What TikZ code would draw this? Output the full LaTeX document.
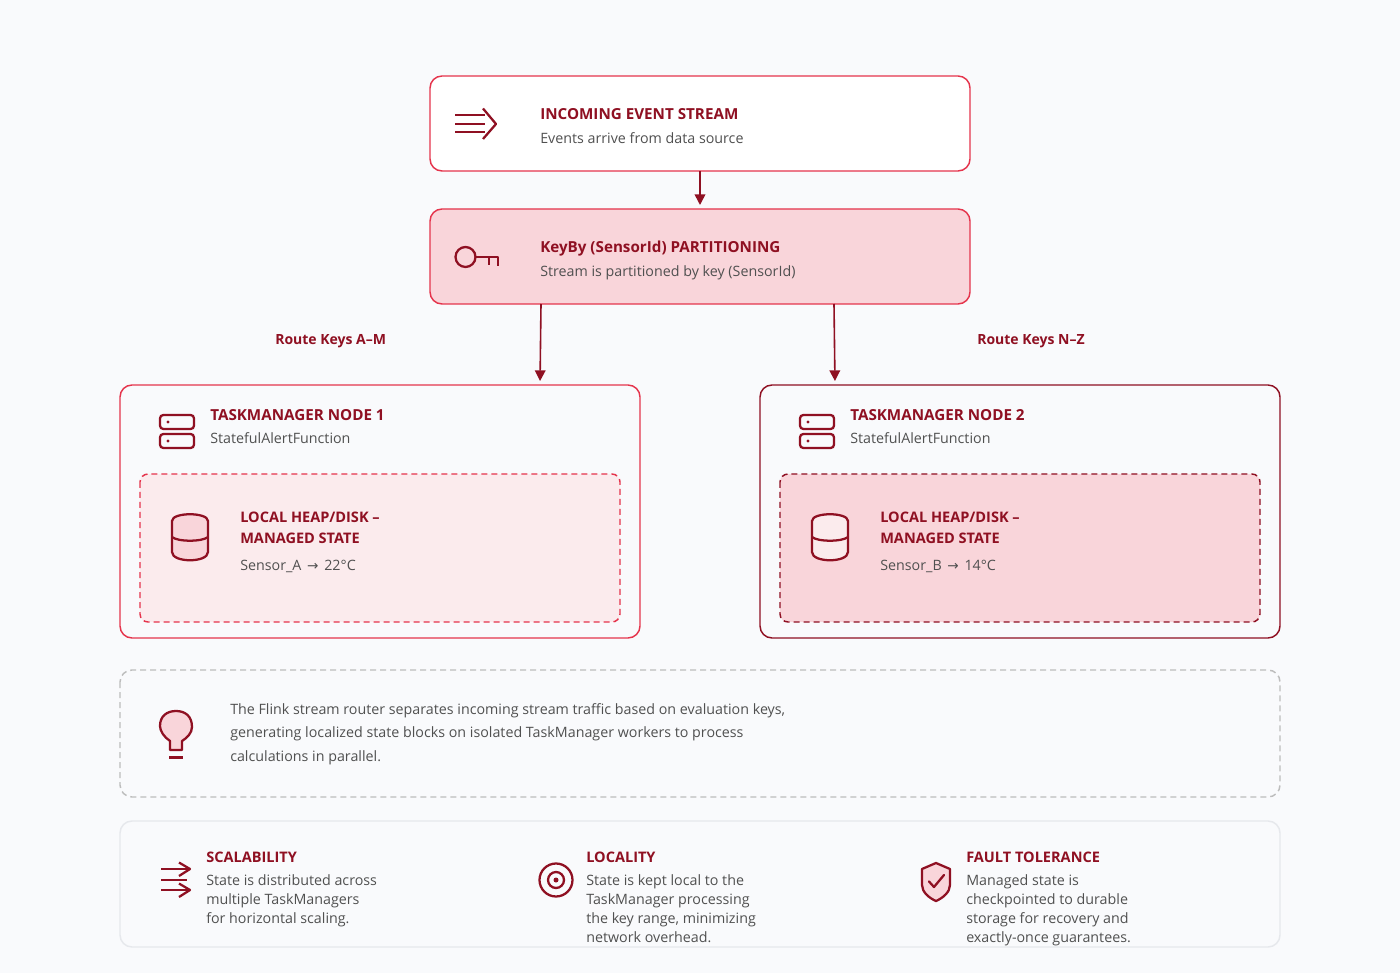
\documentclass[tikz,border=0pt]{standalone}
\usepackage{fontspec}
\setmainfont{Open Sans}
\newfontfamily\arrowfont{DejaVu Sans}
\definecolor{bgc}{HTML}{F9FAFC}
\definecolor{red1}{HTML}{E5344C}
\definecolor{dark}{HTML}{8F1022}
\definecolor{pinkf}{HTML}{F9D5DA}
\definecolor{pinkl}{HTML}{FBEBED}
\definecolor{txt}{HTML}{505050}
\definecolor{graydash}{HTML}{BDBDBD}
\definecolor{lightb}{HTML}{E6E8EC}
\usetikzlibrary{arrows.meta}
\tikzset{
 x=0.75pt,y=-0.75pt,
 box/.style={rounded corners=9pt,line width=1.1pt,inner sep=0pt},
 head/.style={anchor=base west,inner sep=0pt,text=dark,font=\fontsize{11.4pt}{13pt}\bfseries\selectfont},
 heads/.style={anchor=base west,inner sep=0pt,text=dark,font=\fontsize{10.9pt}{13pt}\bfseries\selectfont},
 route/.style={anchor=base west,inner sep=0pt,text=dark,font=\fontsize{10.5pt}{13pt}\bfseries\selectfont},
 sub/.style={anchor=base west,inner sep=0pt,text=txt,font=\fontsize{10.7pt}{13pt}\selectfont},
 ico/.style={draw=dark,line width=1.7pt,line cap=round,line join=round},
 conn/.style={draw=dark,line width=1.2pt,-{Triangle[length=8pt,width=8pt]},shorten >=3pt},
}
\begin{document}
\begin{tikzpicture}
\useasboundingbox (0,0) rectangle (1400,973);
\fill[bgc] (0,0) rectangle (1400,973);
% boxes
\draw[box,draw=red1,fill=white] (430,76) rectangle (970,171);
\coordinate (streamS) at (700,171);
\draw[box,draw=red1,fill=pinkf] (430,209) rectangle (970,304);
\coordinate (keyN) at (700,209);
\coordinate (keyA) at (541,304);
\coordinate (keyB) at (834,304);
\draw[box,draw=red1] (120,385) rectangle (640,638);
\coordinate (tmA) at (540,385);
\draw[box,draw=dark] (760,385) rectangle (1280,638);
\coordinate (tmB) at (835,385);
\draw[box,draw=red1,fill=pinkl,dash pattern=on 4.5pt off 3pt,rounded corners=6pt] (140,474) rectangle (620,622);
\draw[box,draw=dark,fill=pinkf,dash pattern=on 4.5pt off 3pt,rounded corners=6pt] (780,474) rectangle (1260,622);
\draw[box,draw=graydash,dash pattern=on 4.5pt off 3pt] (120,670) rectangle (1280,797);
\draw[box,draw=lightb] (120,821) rectangle (1280,947);
% connectors
\draw[conn] (streamS) -- (keyN);
\draw[conn] (keyA) -- (tmA);
\draw[conn] (keyB) -- (tmB);
% labels
\node[route] (routeA) at (275,345) {Route Keys A–M};
\node[route] (routeB) at (977,345) {Route Keys N–Z};
% header text
\node[head] (t1) at (540,120) {INCOMING EVENT STREAM};
\node[sub] (s1) at (540,144) {Events arrive from data source};
\node[head] (t2) at (540,253) {KeyBy (SensorId) PARTITIONING};
\node[sub] (s2) at (540,277) {Stream is partitioned by key (SensorId)};
\node[head] (t3) at (210,420.5) {TASKMANAGER NODE 1};
\node[sub] (s3) at (210,444) {StatefulAlertFunction};
\node[head] (t4) at (850,420.5) {TASKMANAGER NODE 2};
\node[sub] (s4) at (850,444) {StatefulAlertFunction};
\node[heads] (l1a) at (240,522.5) {LOCAL HEAP/DISK –};
\node[heads] (l1b) at (240,543) {MANAGED STATE};
\node[sub] (l1c) at (240,570) {Sensor\_A\kern1.5pt{} {\arrowfont\fontsize{10.2pt}{13pt}\selectfont →}\kern1.5pt{} 22°C};
\node[heads] (l2a) at (880,522.5) {LOCAL HEAP/DISK –};
\node[heads] (l2b) at (880,543) {MANAGED STATE};
\node[sub] (l2c) at (880,570) {Sensor\_B\kern1.5pt{} {\arrowfont\fontsize{10.2pt}{13pt}\selectfont →}\kern1.5pt{} 14°C};
\node[sub] (n1) at (230,714) {The Flink stream router separates incoming stream traffic based on evaluation keys,};
\node[sub] (n2) at (230,737) {generating localized state blocks on isolated TaskManager workers to process};
\node[sub] (n3) at (230,761) {calculations in parallel.};
\node[heads] (a0) at (206,862.5) {SCALABILITY};
\node[sub] (a1) at (206,885.6) {State is distributed across};
\node[sub] (a2) at (206,904.6) {multiple TaskManagers};
\node[sub] (a3) at (206,923.6) {for horizontal scaling.};
\node[heads] (b0) at (586,862.5) {LOCALITY};
\node[sub] (b1) at (586,885.6) {State is kept local to the};
\node[sub] (b2) at (586,904.6) {TaskManager processing};
\node[sub] (b3) at (586,923.6) {the key range, minimizing};
\node[sub] (b4) at (586,942.6) {network overhead.};
\node[heads] (c0) at (966,862.5) {FAULT TOLERANCE};
\node[sub] (c1) at (966,885.6) {Managed state is};
\node[sub] (c2) at (966,904.6) {checkpointed to durable};
\node[sub] (c3) at (966,923.6) {storage for recovery and};
\node[sub] (c4) at (966,942.6) {exactly-once guarantees.};
% icons: stream
\draw[ico,line cap=butt] (455,115)--(485,115) (455,124)--(485,124) (455,132)--(485,132);
\draw[ico,line cap=butt] (483,108.5)--(496,124)--(483,139);
% key
\draw[ico,line cap=butt] (465.5,257) circle (10);
\draw[ico,line cap=butt] (475.5,257)--(498,257)--(498,266) (489,257)--(489,265);
% servers
\foreach \dx in {0,640}{
 \begin{scope}[xshift=\dx*0.75pt]
 \draw[ico,rounded corners=2.5pt] (160,415) rectangle (194,429);
 \draw[ico,rounded corners=2.5pt] (160,434) rectangle (194,448);
 \fill[dark] (168,422) circle (1.6) (168,441) circle (1.6);
 \end{scope}}
\draw[ico,fill=pinkf] (172,521) .. controls (172,512) and (208,512) .. (208,521) -- (208,552) .. controls (208,563) and (172,563) .. (172,552) -- cycle;
\draw[ico] (172,537) .. controls (178,542) and (202,542) .. (208,537);
\draw[ico,fill=pinkl] (812,521) .. controls (812,512) and (848,512) .. (848,521) -- (848,552) .. controls (848,563) and (812,563) .. (812,552) -- cycle;
\draw[ico] (812,537) .. controls (818,542) and (842,542) .. (848,537);
% bulb
\draw[ico,fill=pinkf] (170,750) -- (170,741) .. controls (164,737) and (160,731) .. (160,726) .. controls (160,716) and (167,711) .. (176,711) .. controls (185,711) and (192,716) .. (192,727) .. controls (192,733) and (187,738) .. (182,741) -- (182,750) -- cycle;
\draw[ico,line cap=butt] (169,757.5)--(183,757.5);
% scalability
\draw[ico,line cap=butt] (161,869)--(190,869) (161,880)--(187,880) (161,890)--(190,890);
\draw[ico,line cap=butt] (179,862.5)--(190,869)--(179,876) (179,883.5)--(190,890)--(179,897);
% target
\draw[ico] (556,880) circle (16.5);
\draw[ico] (556,880) circle (8);
\fill[dark] (556,880) circle (2.5);
% shield
\draw[ico,fill=pinkf] (936,863) -- (950,869) -- (950,885) .. controls (950,892) and (943,898) .. (936,901) .. controls (929,898) and (922,892) .. (922,885) -- (922,869) -- cycle;
\draw[ico] (929,881.5) -- (934,887) -- (944,875);
\end{tikzpicture}
\end{document}
